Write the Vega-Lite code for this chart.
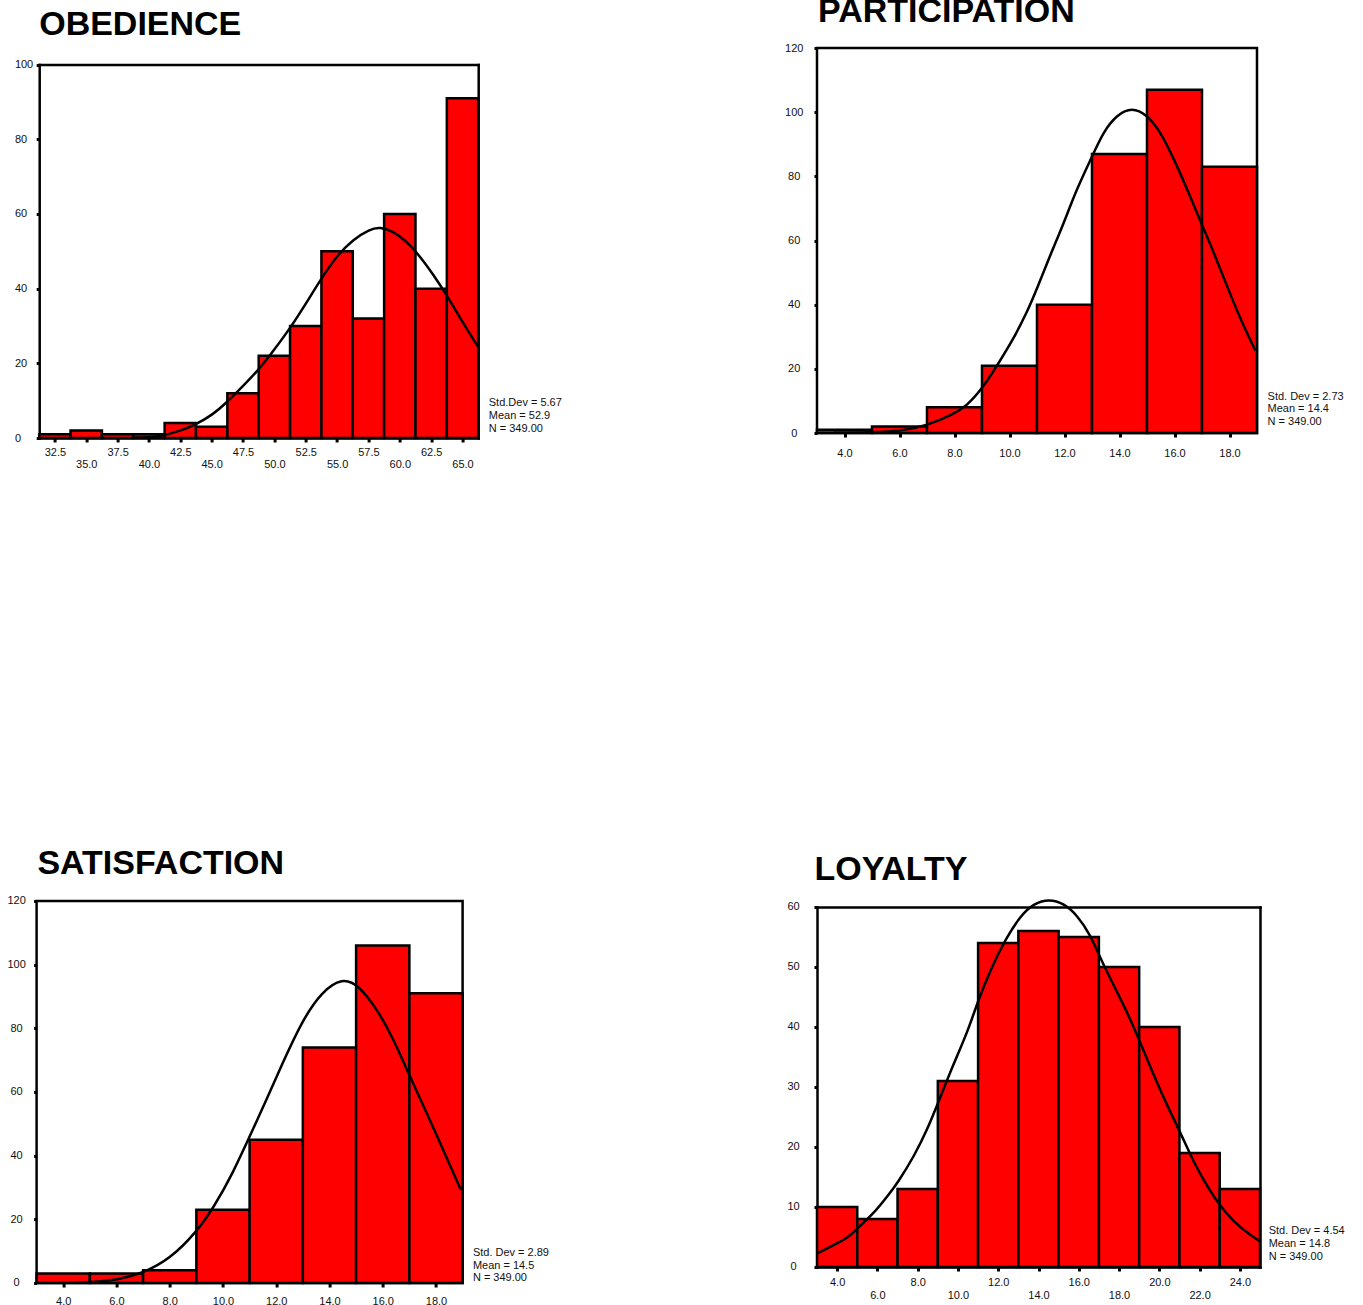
{
  "$schema": "https://vega.github.io/schema/vega-lite/v6.json",
  "background": "white",
  "padding": {"left": 5.6, "top": -7, "right": 10, "bottom": 5},
  "datasets": {
    "obedience_bins": [
      {"lo": 31.25, "hi": 33.75, "count": 1}, {"lo": 33.75, "hi": 36.25, "count": 2},
      {"lo": 36.25, "hi": 38.75, "count": 1}, {"lo": 38.75, "hi": 41.25, "count": 1},
      {"lo": 41.25, "hi": 43.75, "count": 4}, {"lo": 43.75, "hi": 46.25, "count": 3},
      {"lo": 46.25, "hi": 48.75, "count": 12}, {"lo": 48.75, "hi": 51.25, "count": 22},
      {"lo": 51.25, "hi": 53.75, "count": 30}, {"lo": 53.75, "hi": 56.25, "count": 50},
      {"lo": 56.25, "hi": 58.75, "count": 32}, {"lo": 58.75, "hi": 61.25, "count": 60},
      {"lo": 61.25, "hi": 63.75, "count": 40}, {"lo": 63.75, "hi": 66.25, "count": 91}
    ],
    "obedience_curve": [
      {"x": 38.8, "y": 0.1}, {"x": 40.0, "y": 0.2}, {"x": 40.85, "y": 0.4}, {"x": 42.45, "y": 1.8},
      {"x": 43.83, "y": 3.75}, {"x": 45.1, "y": 6.3}, {"x": 46.17, "y": 9.4}, {"x": 47.5, "y": 13.9},
      {"x": 48.75, "y": 18.3}, {"x": 49.89, "y": 23.2}, {"x": 51.28, "y": 29.5}, {"x": 52.55, "y": 36.2},
      {"x": 53.78, "y": 42.9}, {"x": 54.95, "y": 48.7}, {"x": 56.28, "y": 53.2}, {"x": 57.6, "y": 55.9},
      {"x": 58.4, "y": 56.5}, {"x": 59.47, "y": 55.4}, {"x": 60.53, "y": 52.7}, {"x": 61.6, "y": 48.7},
      {"x": 62.66, "y": 43.8}, {"x": 63.72, "y": 38.4}, {"x": 64.79, "y": 32.2}, {"x": 66.2, "y": 24.6}
    ],
    "participation_bins": [
      {"lo": 3, "hi": 5, "count": 1}, {"lo": 5, "hi": 7, "count": 2},
      {"lo": 7, "hi": 9, "count": 8}, {"lo": 9, "hi": 11, "count": 21},
      {"lo": 11, "hi": 13, "count": 40}, {"lo": 13, "hi": 15, "count": 87},
      {"lo": 15, "hi": 17, "count": 107}, {"lo": 17, "hi": 19, "count": 83}
    ],
    "participation_curve": [
      {"x": 3.6, "y": 0.05}, {"x": 5.0, "y": 0.2}, {"x": 6.03, "y": 0.5}, {"x": 7.0, "y": 2.3},
      {"x": 7.97, "y": 5.9}, {"x": 8.45, "y": 8.5}, {"x": 9.0, "y": 13.75}, {"x": 9.55, "y": 21},
      {"x": 10.15, "y": 29.4}, {"x": 10.64, "y": 37.7}, {"x": 11.0, "y": 45}, {"x": 11.48, "y": 55.4},
      {"x": 11.97, "y": 65.3}, {"x": 12.45, "y": 76.2}, {"x": 13.0, "y": 86.1}, {"x": 13.42, "y": 94},
      {"x": 13.91, "y": 99.2}, {"x": 14.45, "y": 101.5}, {"x": 15.0, "y": 99.2}, {"x": 15.48, "y": 94},
      {"x": 15.97, "y": 85.6}, {"x": 16.45, "y": 76.2}, {"x": 17.0, "y": 64.8}, {"x": 17.42, "y": 56.5},
      {"x": 17.9, "y": 46}, {"x": 18.39, "y": 35.6}, {"x": 18.94, "y": 25.7}
    ],
    "satisfaction_bins": [
      {"lo": 3, "hi": 5, "count": 3}, {"lo": 5, "hi": 7, "count": 3},
      {"lo": 7, "hi": 9, "count": 4}, {"lo": 9, "hi": 11, "count": 23},
      {"lo": 11, "hi": 13, "count": 45}, {"lo": 13, "hi": 15, "count": 74},
      {"lo": 15, "hi": 17, "count": 106}, {"lo": 17, "hi": 19, "count": 91}
    ],
    "satisfaction_curve": [
      {"x": 4.39, "y": 0.05}, {"x": 5.23, "y": 0.3}, {"x": 6.06, "y": 1.0}, {"x": 7.0, "y": 3.1},
      {"x": 8.0, "y": 7.5}, {"x": 8.98, "y": 15.7}, {"x": 9.68, "y": 24.1}, {"x": 10.37, "y": 34.5},
      {"x": 11.0, "y": 46}, {"x": 11.63, "y": 57.5}, {"x": 12.18, "y": 68}, {"x": 12.99, "y": 82.7},
      {"x": 13.71, "y": 91.5}, {"x": 14.48, "y": 95.9}, {"x": 15.1, "y": 93.6}, {"x": 15.8, "y": 85.8},
      {"x": 16.36, "y": 77.4}, {"x": 17.02, "y": 64.9}, {"x": 17.6, "y": 54.4}, {"x": 18.3, "y": 41.3},
      {"x": 18.93, "y": 29.3}
    ],
    "loyalty_bins": [
      {"lo": 3, "hi": 5, "count": 10}, {"lo": 5, "hi": 7, "count": 8},
      {"lo": 7, "hi": 9, "count": 13}, {"lo": 9, "hi": 11, "count": 31},
      {"lo": 11, "hi": 13, "count": 54}, {"lo": 13, "hi": 15, "count": 56},
      {"lo": 15, "hi": 17, "count": 55}, {"lo": 17, "hi": 19, "count": 50},
      {"lo": 19, "hi": 21, "count": 40}, {"lo": 21, "hi": 23, "count": 19},
      {"lo": 23, "hi": 25, "count": 13}
    ],
    "loyalty_curve": [
      {"x": 3.03, "y": 2.3}, {"x": 3.86, "y": 3.7}, {"x": 4.52, "y": 4.8}, {"x": 5.02, "y": 6.5},
      {"x": 5.84, "y": 9.0}, {"x": 6.5, "y": 11.8}, {"x": 7.0, "y": 14.0}, {"x": 7.83, "y": 18.5},
      {"x": 8.49, "y": 23.0}, {"x": 9.02, "y": 27.4}, {"x": 9.81, "y": 34.1}, {"x": 10.47, "y": 39.1},
      {"x": 10.97, "y": 44.1}, {"x": 11.63, "y": 49.7}, {"x": 12.37, "y": 54.7}, {"x": 13.12, "y": 58.6},
      {"x": 13.78, "y": 60.6}, {"x": 14.52, "y": 61.3}, {"x": 15.26, "y": 60.6}, {"x": 15.93, "y": 58.6},
      {"x": 16.59, "y": 55.3}, {"x": 17.08, "y": 51.4}, {"x": 17.74, "y": 46.9}, {"x": 18.4, "y": 42.5},
      {"x": 18.98, "y": 38.0}, {"x": 19.73, "y": 31.9}, {"x": 20.39, "y": 26.9}, {"x": 21.05, "y": 22.4},
      {"x": 21.71, "y": 17.4}, {"x": 22.37, "y": 13.5}, {"x": 23.03, "y": 10.1}, {"x": 23.69, "y": 7.6},
      {"x": 24.36, "y": 5.7}, {"x": 24.98, "y": 4.3}
    ]
  },
  "concat": [
    {
      "title": {"text": "OBEDIENCE", "offset": 6.3, "dx": 2.6},
      "width": 441.6,
      "height": 390,
      "view": {"stroke": null},
      "resolve": {"axis": {"x": "independent", "y": "independent"}},
      "layer": [
        {
          "data": {"name": "obedience_bins"},
          "mark": {"type": "rect", "fill": "#ff0000", "stroke": "#000000", "strokeWidth": 2.5},
          "encoding": {
            "x": {"field": "lo", "type": "quantitative", "scale": {"domain": [31.25, 66.25], "range": [2.6, 441.6], "nice": false, "zero": false},
                  "axis": {"values": [32.5, 37.5, 42.5, 47.5, 52.5, 57.5, 62.5], "format": ".1f",
                           "labelPadding": 4.5, "title": null, "domain": true}},
            "x2": {"field": "hi"},
            "y": {"field": "count", "type": "quantitative", "scale": {"domain": [0, 100], "range": [390, 16.6], "nice": false},
                  "axis": {"values": [0, 20, 40, 60, 80, 100], "labelAlign": "left", "labelPadding": 21.8, "offset": -2.6,
                           "title": null, "domain": true}},
            "y2": {"datum": 0}
          }
        },
        {
          "data": {"name": "obedience_curve"},
          "mark": {"type": "line", "interpolate": "basis", "color": "#000000", "strokeWidth": 2.5},
          "encoding": {
            "x": {"field": "x", "type": "quantitative", "scale": {"domain": [31.25, 66.25], "range": [2.6, 441.6], "nice": false, "zero": false},
                  "axis": {"orient": "top", "offset": -16.6, "domain": true, "ticks": false, "labels": false, "title": null}},
            "y": {"field": "y", "type": "quantitative", "scale": {"domain": [0, 100], "range": [390, 16.6], "nice": false},
                  "axis": {"orient": "right", "domain": true, "ticks": false, "labels": false, "title": null}}
          }
        },
        {
          "data": {"values": [{}]},
          "mark": {"type": "text", "align": "left", "baseline": "alphabetic", "dx": 10.6, "dy": -31.7, "lineHeight": 12.8},
          "encoding": {
            "x": {"datum": 66.25, "type": "quantitative", "scale": {"domain": [31.25, 66.25], "range": [2.6, 441.6], "nice": false, "zero": false},
                  "axis": {"orient": "bottom", "values": [35, 40, 45, 50, 55, 60, 65], "format": ".1f",
                           "labelPadding": 16, "domain": false, "title": null}},
            "y": {"datum": 0, "type": "quantitative", "scale": {"domain": [0, 100], "range": [390, 16.6], "nice": false}, "axis": null},
            "text": {"value": ["Std.Dev = 5.67", "Mean = 52.9", "N = 349.00"]}
          }
        }
      ]
    },
    {
      "title": {"text": "PARTICIPATION", "offset": 13, "dx": 1},
      "width": 440,
      "height": 385,
      "layer": [
        {
          "data": {"name": "participation_bins"},
          "mark": {"type": "rect", "fill": "#ff0000", "stroke": "#000000", "strokeWidth": 2.5},
          "encoding": {
            "x": {"field": "lo", "type": "quantitative", "scale": {"domain": [3, 19], "nice": false, "zero": false},
                  "axis": {"values": [4, 6, 8, 10, 12, 14, 16, 18], "format": ".1f", "labelPadding": 10, "title": null}},
            "x2": {"field": "hi"},
            "y": {"field": "count", "type": "quantitative", "scale": {"domain": [0, 120], "nice": false},
                  "axis": {"values": [0, 20, 40, 60, 80, 100, 120], "labelAlign": "center", "labelPadding": 20.3, "title": null}},
            "y2": {"datum": 0}
          }
        },
        {
          "data": {"name": "participation_curve"},
          "mark": {"type": "line", "interpolate": "basis", "color": "#000000", "strokeWidth": 2.5},
          "encoding": {
            "x": {"field": "x", "type": "quantitative", "scale": {"domain": [3, 19], "nice": false, "zero": false}},
            "y": {"field": "y", "type": "quantitative", "scale": {"domain": [0, 120], "nice": false}}
          }
        },
        {
          "data": {"values": [{}]},
          "mark": {"type": "text", "align": "left", "baseline": "alphabetic", "dx": 10.6, "dy": -33.4, "lineHeight": 12.5},
          "encoding": {
            "x": {"datum": 19, "type": "quantitative", "scale": {"domain": [3, 19], "nice": false, "zero": false}},
            "y": {"datum": 0, "type": "quantitative", "scale": {"domain": [0, 120], "nice": false}},
            "text": {"value": ["Std. Dev = 2.73", "Mean = 14.4", "N = 349.00"]}
          }
        }
      ]
    },
    {
      "title": {"text": "SATISFACTION", "offset": 14, "dx": 0.8},
      "width": 426,
      "height": 382,
      "layer": [
        {
          "data": {"name": "satisfaction_bins"},
          "mark": {"type": "rect", "fill": "#ff0000", "stroke": "#000000", "strokeWidth": 2.5},
          "encoding": {
            "x": {"field": "lo", "type": "quantitative", "scale": {"domain": [3, 19], "nice": false, "zero": false},
                  "axis": {"values": [4, 6, 8, 10, 12, 14, 16, 18], "format": ".1f", "labelPadding": 9, "title": null}},
            "x2": {"field": "hi"},
            "y": {"field": "count", "type": "quantitative", "scale": {"domain": [0, 120], "nice": false},
                  "axis": {"values": [0, 20, 40, 60, 80, 100, 120], "labelAlign": "center", "labelPadding": 17.5, "title": null}},
            "y2": {"datum": 0}
          }
        },
        {
          "data": {"name": "satisfaction_curve"},
          "mark": {"type": "line", "interpolate": "basis", "color": "#000000", "strokeWidth": 2.5},
          "encoding": {
            "x": {"field": "x", "type": "quantitative", "scale": {"domain": [3, 19], "nice": false, "zero": false}},
            "y": {"field": "y", "type": "quantitative", "scale": {"domain": [0, 120], "nice": false}}
          }
        },
        {
          "data": {"values": [{}]},
          "mark": {"type": "text", "align": "left", "baseline": "alphabetic", "dx": 10.3, "dy": -26.6, "lineHeight": 12.5},
          "encoding": {
            "x": {"datum": 19, "type": "quantitative", "scale": {"domain": [3, 19], "nice": false, "zero": false}},
            "y": {"datum": 0, "type": "quantitative", "scale": {"domain": [0, 120], "nice": false}},
            "text": {"value": ["Std. Dev = 2.89", "Mean = 14.5", "N = 349.00"]}
          }
        }
      ]
    },
    {
      "title": {"text": "LOYALTY", "offset": 8.3, "dx": -2.5},
      "width": 443,
      "height": 366,
      "view": {"stroke": null},
      "resolve": {"axis": {"x": "independent", "y": "independent"}},
      "layer": [
        {
          "data": {"name": "loyalty_bins"},
          "mark": {"type": "rect", "fill": "#ff0000", "stroke": "#000000", "strokeWidth": 2.5},
          "encoding": {
            "x": {"field": "lo", "type": "quantitative", "scale": {"domain": [3, 25], "nice": false, "zero": false},
                  "axis": {"values": [4, 8, 12, 16, 20, 24], "format": ".1f",
                           "labelPadding": 5.5, "title": null, "domain": true}},
            "x2": {"field": "hi"},
            "y": {"field": "count", "type": "quantitative", "scale": {"domain": [0, 60], "range": [366, 6], "nice": false},
                  "axis": {"values": [0, 10, 20, 30, 40, 50, 60], "labelAlign": "center", "labelPadding": 20.9, "title": null, "domain": true}},
            "y2": {"datum": 0}
          }
        },
        {
          "data": {"name": "loyalty_curve"},
          "mark": {"type": "line", "interpolate": "basis", "color": "#000000", "strokeWidth": 2.5},
          "encoding": {
            "x": {"field": "x", "type": "quantitative", "scale": {"domain": [3, 25], "nice": false, "zero": false},
                  "axis": {"orient": "top", "offset": -6, "domain": true, "ticks": false, "labels": false, "title": null}},
            "y": {"field": "y", "type": "quantitative", "scale": {"domain": [0, 60], "range": [366, 6], "nice": false},
                  "axis": {"orient": "right", "domain": true, "ticks": false, "labels": false, "title": null}}
          }
        },
        {
          "data": {"values": [{}]},
          "mark": {"type": "text", "align": "left", "baseline": "alphabetic", "dx": 8.7, "dy": -33.4, "lineHeight": 13.3},
          "encoding": {
            "x": {"datum": 25, "type": "quantitative", "scale": {"domain": [3, 25], "nice": false, "zero": false},
                  "axis": {"orient": "bottom", "values": [6, 10, 14, 18, 22], "format": ".1f",
                           "labelPadding": 18.8, "domain": false, "title": null}},
            "y": {"datum": 0, "type": "quantitative", "scale": {"domain": [0, 60], "range": [366, 6], "nice": false}, "axis": null},
            "text": {"value": ["Std. Dev = 4.54", "Mean = 14.8", "N = 349.00"]}
          }
        }
      ]
    }
  ],
  "columns": 2,
  "align": "each",
  "spacing": {"row": 376, "column": 220.4},
  "config": {
    "view": {"stroke": "#000000", "strokeWidth": 2.5},
    "font": "Liberation Sans",
    "axis": {
      "domain": false, "grid": false, "tickColor": "#000000",
      "domainColor": "#000000", "domainWidth": 2.5, "domainCap": "square",
      "labelFont": "Liberation Sans", "labelFontSize": 11, "labelColor": "#111111",
      "labelOverlap": false, "labelFlush": false
    },
    "axisX": {"tickSize": 4, "tickWidth": 3},
    "axisY": {"tickSize": 3, "tickWidth": 3},
    "title": {"font": "Liberation Sans", "fontSize": 34, "fontWeight": "bold", "color": "#000000",
              "anchor": "start", "frame": "group", "baseline": "alphabetic"},
    "text": {"font": "Liberation Sans", "fontSize": 11, "color": "#111111"}
  }
}
